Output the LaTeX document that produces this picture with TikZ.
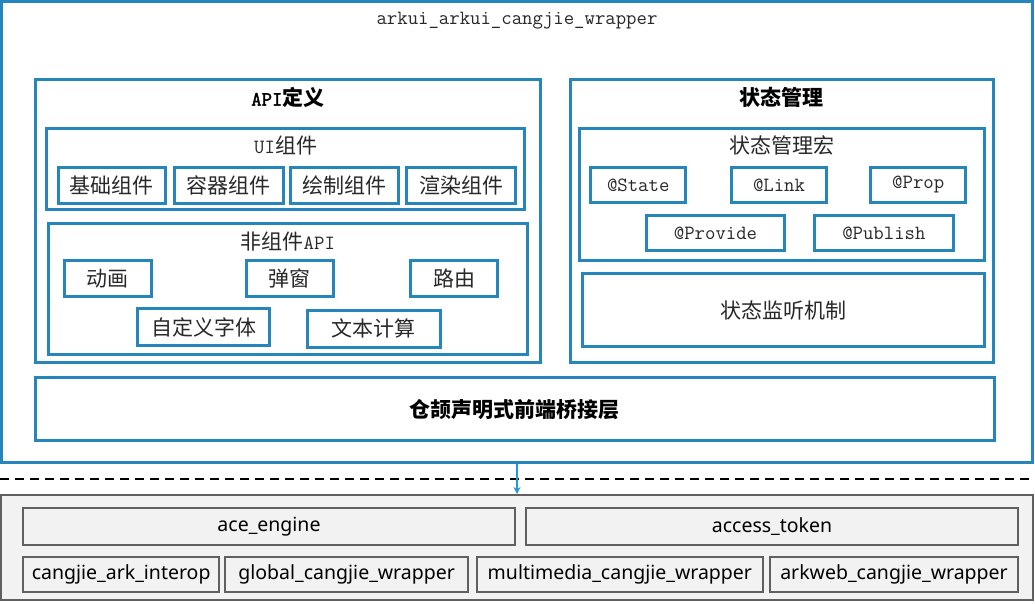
\documentclass[tikz,border=0pt]{standalone}
\usepackage{fontspec}
\usetikzlibrary{arrows.meta}
\newfontfamily\cjk{Noto Sans CJK SC}
\newfontfamily\bsans{Noto Sans}
\newfontfamily\ttbold{Latin Modern Mono}[FakeBold=2]
\definecolor{bluec}{RGB}{38,134,188}
\definecolor{arrowc}{RGB}{30,155,215}
\definecolor{grayline}{RGB}{96,96,96}
\definecolor{grayfill}{RGB}{242,242,242}
\definecolor{txt}{RGB}{40,40,40}
\newcommand{\myzh}[1]{{\cjk\fontsize{21}{24}\selectfont #1}}
\newcommand{\mytt}[1]{{\ttfamily #1}}
\tikzset{
  bluebox/.style={draw=bluec, line width=3pt, rectangle, inner sep=0pt, outer sep=0pt, fill=white,
    text=txt, font=\fontsize{20.2}{23}\selectfont},
  graybox/.style={draw=grayline, line width=2pt, rectangle, inner sep=0pt, outer sep=0pt, fill=grayfill,
    text=black, font=\bsans\fontsize{19.5}{22}\selectfont},
  lbl/.style={inner sep=0pt, text=txt, font=\fontsize{20.2}{23}\selectfont},
  blbl/.style={inner sep=0pt, text=black, font=\bfseries\fontsize{20.2}{23}\selectfont},
}
\newcommand{\bx}[6]{\node[#1, minimum width=#4pt, minimum height=#5pt] (#2) at (#3) {#6};}
\begin{document}
\begin{tikzpicture}[x=1pt,y=-1pt]
\useasboundingbox (0,0) rectangle (1035,603);
% outer wrapper
\bx{bluebox}{outer}{516.9,231.9}{1030.8}{460.8}{}
\node[lbl] (title) at (517,21) {\mytt{arkui\_arkui\_cangjie\_wrapper}};
% API definition
\bx{bluebox}{api}{287.85,220.65}{505.7}{283.3}{}
\node[blbl] (apit) at (287.85,97.5) {{\ttbold API}\myzh{定义}};
\bx{bluebox}{ui}{285.6,168.85}{478.2}{81.7}{}
\node[lbl] (uit) at (285.6,146) {\mytt{UI}\myzh{组件}};
\bx{bluebox}{c1}{111.65,185.15}{107.3}{35.7}{\myzh{基础组件}}
\bx{bluebox}{c2}{228.5,185.15}{109}{35.7}{\myzh{容器组件}}
\bx{bluebox}{c3}{344.5,185.15}{108.4}{35.7}{\myzh{绘制组件}}
\bx{bluebox}{c4}{461,185.15}{109.4}{35.7}{\myzh{渲染组件}}
\bx{bluebox}{nc}{287.85,289}{478.3}{130.6}{}
\node[lbl] (nct) at (287.85,242) {\myzh{非组件}\mytt{API}};
\bx{bluebox}{n1}{107.85,278.5}{86.3}{35.6}{\myzh{动画}}
\bx{bluebox}{n2}{289.65,278.5}{86.7}{35.6}{\myzh{弹窗}}
\bx{bluebox}{n3}{454,278.5}{86.6}{35.6}{\myzh{路由}}
\bx{bluebox}{n4}{203.5,327}{132.4}{36.6}{\myzh{自定义字体}}
\bx{bluebox}{n5}{373.85,328.8}{132.3}{37}{\myzh{文本计算}}
% state management
\bx{bluebox}{sm}{781.85,220.65}{422.3}{283.3}{}
\node[blbl] (smt) at (781.85,97.5) {\myzh{状态管理}};
\bx{bluebox}{mac}{781.85,194.35}{404.3}{132.7}{}
\node[lbl] (mact) at (781.85,145.5) {\myzh{状态管理宏}};
\bx{bluebox}{s1}{638.2,185}{95}{35.4}{\mytt{@State}}
\bx{bluebox}{s2}{779,185}{94.6}{35.4}{\mytt{@Link}}
\bx{bluebox}{s3}{918.2,185}{95}{35.4}{\mytt{@Prop}}
\bx{bluebox}{s4}{715.5,232.85}{138.4}{35.7}{\mytt{@Provide}}
\bx{bluebox}{s5}{883.85,232.85}{138.3}{35.7}{\mytt{@Publish}}
\bx{bluebox}{lis}{783,310.2}{402}{73}{\myzh{状态监听机制}}
% bridge
\bx{bluebox}{bridge}{514.5,409.1}{959}{63.2}{\bfseries\color{black}\myzh{仓颉声明式前端桥接层}}
% separator
\coordinate (dl) at (0,479);
\coordinate (dr) at (1035,479);
\draw[black, line width=1.6pt, dash pattern=on 9pt off 6pt] (dl) -- (dr);
% dependencies
\bx{graybox}{deps}{516.85,547.65}{1031.7}{105.3}{}
\bx{graybox}{ace}{269,526.2}{492}{37}{\raisebox{-1.5pt}{ace\_engine}}
\bx{graybox}{acc}{772,526.2}{492}{37}{\raisebox{-1.5pt}{access\_token}}
\bx{graybox}{d1}{121.15,574.8}{196.3}{35}{\raisebox{-1pt}{cangjie\_ark\_interop}}
\bx{graybox}{d2}{346.65,574.8}{243.3}{35}{\raisebox{-1pt}{global\_cangjie\_wrapper}}
\bx{graybox}{d3}{619.85,574.8}{285.7}{35}{\raisebox{-1pt}{multimedia\_cangjie\_wrapper}}
\bx{graybox}{d4}{894,574.8}{248}{35}{\raisebox{-1pt}{arkweb\_cangjie\_wrapper}}
% arrow
\coordinate (as) at (517,463.5);
\coordinate (ae) at (517,494);
\draw[arrowc, line width=2pt, -{Stealth[length=7pt,width=7pt]}] (as) -- (ae);
\end{tikzpicture}
\end{document}
